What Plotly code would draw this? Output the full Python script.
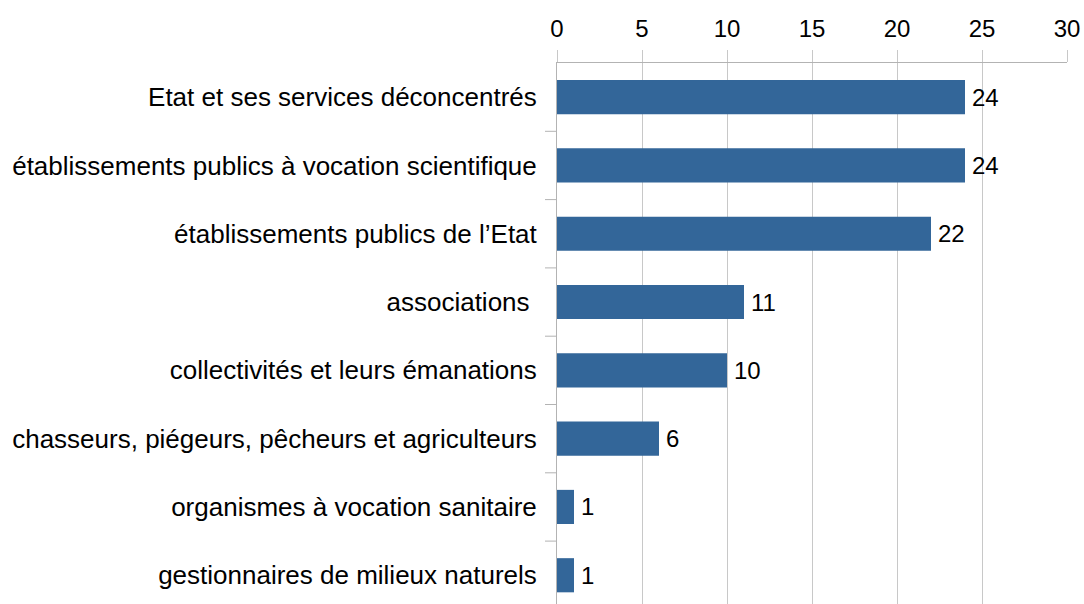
import plotly.graph_objects as go

# Categories listed top to bottom
categories = [
    "Etat et ses services déconcentrés",
    "établissements publics à vocation scientifique",
    "établissements publics de l’Etat",
    "associations\u00a0",
    "collectivités et leurs émanations",
    "chasseurs, piégeurs, pêcheurs et agriculteurs",
    "organismes à vocation sanitaire",
    "gestionnaires de milieux naturels",
]
counts = [24, 24, 22, 11, 10, 6, 1, 1]
x_ticks = [0, 5, 10, 15, 20, 25, 30]

BAR_COLOR = "#336699"
FONT = "Liberation Sans, Arial, sans-serif"

fig = go.Figure()
fig.add_trace(go.Bar(
    x=counts,
    y=list(range(len(categories))),
    orientation="h",
    marker=dict(color=BAR_COLOR, line=dict(width=0)),
    width=0.5,
    hoverinfo="skip",
))

# Value labels placed just right of each bar end
for i, v in enumerate(counts):
    fig.add_annotation(
        x=v, y=i, text=str(v), showarrow=False,
        xanchor="left", yanchor="middle", xshift=5,
        font=dict(family=FONT, size=24, color="black"),
    )

fig.update_layout(
    width=1084, height=604,
    margin=dict(l=557, r=17, t=63, b=0),
    paper_bgcolor="white", plot_bgcolor="white",
    showlegend=False,
    font=dict(family=FONT, size=24, color="black"),
    xaxis=dict(
        side="top", range=[0, 30], tickvals=x_ticks,
        ticktext=[str(t) for t in x_ticks],
        showgrid=True, gridcolor="#c8c8c8", gridwidth=1,
        showline=True, linecolor="#b3b3b3", linewidth=1,
        ticks="outside", ticklen=12, tickcolor="#c8c8c8",
        zeroline=False, fixedrange=True,
        tickfont=dict(family=FONT, size=24, color="black"),
        ticklabelstandoff=3,
    ),
    yaxis=dict(
        range=[7.421, -0.5],
        tickmode="array",
        tickvals=list(range(len(categories))),
        ticktext=categories,
        showgrid=False, zeroline=False,
        showline=True, linecolor="#b3b3b3", linewidth=1,
        ticks="", fixedrange=True,
        tickfont=dict(family=FONT, size=26, color="black"),
        ticklabelstandoff=14,
    ),
)

# Short boundary ticks between categories on the left axis
for b in [i + 0.5 for i in range(len(categories) - 1)]:
    fig.add_shape(
        type="line", xref="x domain", yref="y",
        x0=-12 / 510, x1=0, y0=b, y1=b,
        line=dict(color="#b3b3b3", width=1),
    )

fig.write_html("out.html")
